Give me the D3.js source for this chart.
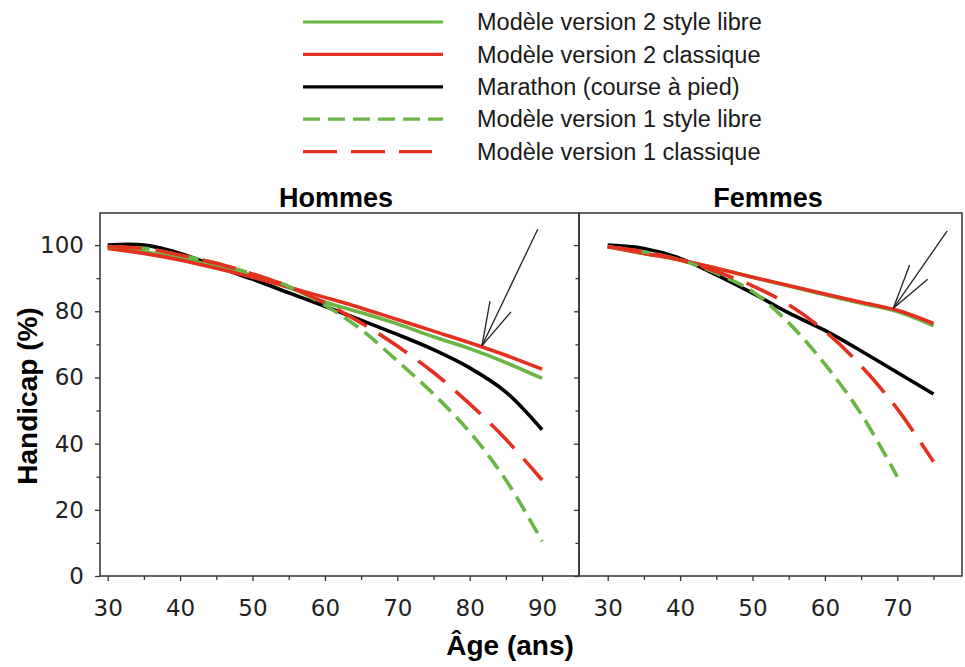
<!DOCTYPE html>
<html lang="fr">
<head>
<meta charset="UTF-8">
<title>Handicap</title>
<script src="https://cdn.jsdelivr.net/npm/d3@7"></script>
<style>
  body { margin: 0; background: #fff; }
  .tick text { font-family: "DejaVu Sans", Verdana, sans-serif; font-size: 23px; fill: #222; }
  .domain { stroke: none; }
  .tick line { stroke: #333; stroke-width: 1.3; }
</style>
</head>
<body>
<svg id="chart" width="965" height="667"></svg>
<script>
// ages
var agesH = [30, 35, 40, 45, 50, 55, 60, 65, 70, 75, 80, 85, 90];
var agesF = [30, 35, 40, 45, 50, 55, 60, 65, 70, 75];
var agesFv1Libre = [30, 35, 40, 45, 50, 55, 60, 65, 70];

// Hommes
var hV2Libre     = [99.5, 98, 96, 93.5, 90.8, 87.2, 82.8, 79.6, 76.2, 72.3, 68.7, 64.5, 59.7];
var hV2Classique = [99, 97.5, 95.5, 93, 90.3, 87.3, 84.2, 81, 77.5, 74, 70.5, 66.7, 62.5];
var hMarathon    = [100, 100, 97.5, 93.5, 89.7, 85.6, 81.5, 77.3, 73, 68.4, 62.9, 55.6, 44.2];
var hV1Libre     = [99.5, 99, 97, 94.5, 91.3, 87.5, 81.8, 74.5, 65, 55, 43.5, 29, 10.5];
var hV1Classique = [99.5, 99, 97, 94.5, 91.3, 87.5, 82.5, 76.5, 69.5, 61.5, 52, 41.3, 29];

// Femmes
var fV2Libre     = [99.5, 97.5, 95.5, 93, 90.3, 87.6, 85, 82.4, 79.9, 75.6];
var fV2Classique = [99.5, 97.5, 95.5, 93, 90.3, 87.8, 85.2, 82.7, 80.3, 76.3];
var fMarathon    = [100, 99, 96, 91, 85.5, 79.5, 74.2, 68, 61.5, 55];
var fV1Libre     = [99.5, 98, 95.5, 91.5, 86, 76.5, 64, 49, 30];
var fV1Classique = [99.5, 98, 95.5, 92, 87.7, 82, 74, 63.5, 50.5, 34.5];

var legendLabels = ['Modèle version 2 style libre', 'Modèle version 2 classique',
    'Marathon (course à pied)', 'Modèle version 1 style libre', 'Modèle version 1 classique'];
var yTicks = [0, 20, 40, 60, 80, 100];

var green = '#6ab645';
var red = '#e4311f';

// series styles, same order as the legend
var styles = [
    {color: green, dash: null},
    {color: red, dash: null},
    {color: '#000', dash: null},
    {color: green, dash: '17,8'},
    {color: red, dash: '34,14'}
];

var svg = d3.select('#chart');

var y = d3.scaleLinear().domain([0, 110]).range([576, 212]);
var xH = d3.scaleLinear().domain([30, 90]).range([107.7, 542.1]);
var xF = d3.scaleLinear().domain([30, 75]).range([607.7, 933.5]);

// legend
var legend = svg.append('g');
legendLabels.forEach(function(label, i) {
    var ly = 22 + i * 32.4;
    var s = styles[i];
    legend.append('line')
        .attr('x1', 303).attr('x2', i == 4 ? 432 : 443)
        .attr('y1', ly).attr('y2', ly)
        .attr('stroke', s.color)
        .attr('stroke-width', 3.2)
        .attr('stroke-dasharray', s.dash);
    legend.append('text')
        .attr('x', 477).attr('y', ly)
        .attr('dy', '0.35em')
        .style('font-family', '"Liberation Sans", Arial, sans-serif')
        .style('font-size', '23.5px')
        .attr('fill', '#1a1a1a')
        .text(label);
});

function drawPanel(x, left, right, title, series, arrow, showLabels) {
    var g = svg.append('g');

    // frame
    g.append('rect')
        .attr('x', left).attr('y', 213)
        .attr('width', right - left).attr('height', 576 - 213)
        .attr('fill', 'none')
        .attr('stroke', '#333')
        .attr('stroke-width', 1.5);

    // y axis
    var yAxis = d3.axisLeft(y).tickValues(yTicks).tickSize(5).tickPadding(11);
    if (!showLabels) yAxis.tickFormat('');
    g.append('g').attr('transform', 'translate(' + left + ',0)').call(yAxis);
    g.append('g').attr('transform', 'translate(' + left + ',0)')
        .call(d3.axisLeft(y).tickValues([10, 30, 50, 70, 90]).tickSize(3.5).tickFormat(''));

    // x axis
    var dom = x.domain();
    var major = d3.range(dom[0], dom[1] + 1, 10);
    var minor = d3.range(dom[0] + 5, dom[1] + 1, 10);
    g.append('g').attr('transform', 'translate(0,576)')
        .call(d3.axisBottom(x).tickValues(major).tickSize(5).tickPadding(19).tickFormat(d3.format('d')));
    g.append('g').attr('transform', 'translate(0,576)')
        .call(d3.axisBottom(x).tickValues(minor).tickSize(4).tickFormat(''));

    // title
    g.append('text')
        .attr('x', title.x).attr('y', 207)
        .attr('text-anchor', 'middle')
        .style('font-family', '"Liberation Sans", Arial, sans-serif')
        .style('font-weight', 'bold')
        .style('font-size', '27px')
        .text(title.text);

    // curves
    var line = d3.line()
        .x(function(d) { return x(d[0]); })
        .y(function(d) { return y(d[1]); })
        .curve(d3.curveCatmullRom.alpha(0.5));

    [2, 0, 1, 3, 4].forEach(function(i) {
        var s = series[i];
        var pts = s.ages.map(function(a, j) { return [a, s.values[j]]; });
        g.append('path')
            .attr('d', line(pts))
            .attr('fill', 'none')
            .attr('stroke', styles[i].color)
            .attr('stroke-width', 3.6)
            .attr('stroke-dasharray', styles[i].dash);
    });

    // arrow
    var tip = arrow.tip;
    [arrow.start, arrow.head1, arrow.head2].forEach(function(p) {
        g.append('line')
            .attr('x1', x(p[0])).attr('y1', y(p[1]))
            .attr('x2', x(tip[0])).attr('y2', y(tip[1]))
            .attr('stroke', '#222')
            .attr('stroke-width', 1.3);
    });
}

drawPanel(xH, 100, 579, {text: 'Hommes', x: 336}, [
    {ages: agesH, values: hV2Libre},
    {ages: agesH, values: hV2Classique},
    {ages: agesH, values: hMarathon},
    {ages: agesH, values: hV1Libre},
    {ages: agesH, values: hV1Classique}
], {tip: [81.7, 69.6], start: [89.4, 104.8], head1: [82.8, 83.1], head2: [85.7, 79.8]}, true);

drawPanel(xF, 579, 962, {text: 'Femmes', x: 768}, [
    {ages: agesF, values: fV2Libre},
    {ages: agesF, values: fV2Classique},
    {ages: agesF, values: fMarathon},
    {ages: agesFv1Libre, values: fV1Libre},
    {ages: agesF, values: fV1Classique}
], {tip: [69.45, 80.9], start: [76.9, 104.3], head1: [71.7, 94.0], head2: [74.2, 89.7]}, false);

// axis titles
svg.append('text')
    .attr('transform', 'translate(37,396) rotate(-90)')
    .attr('text-anchor', 'middle')
    .style('font-family', '"Liberation Sans", Arial, sans-serif')
    .style('font-weight', 'bold')
    .style('font-size', '28px')
    .text('Handicap (%)');

svg.append('text')
    .attr('x', 510).attr('y', 655)
    .attr('text-anchor', 'middle')
    .style('font-family', '"Liberation Sans", Arial, sans-serif')
    .style('font-weight', 'bold')
    .style('font-size', '28px')
    .text('Âge (ans)');
</script>
</body>
</html>
